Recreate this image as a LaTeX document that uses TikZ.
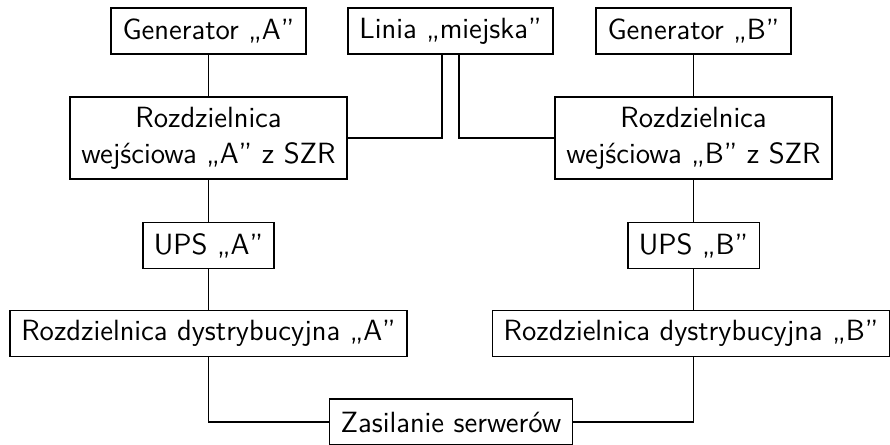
\documentclass[tikz,border=0pt]{standalone}
\usepackage{fontspec}
\begin{document}
\begin{tikzpicture}[x=0.4pt,y=-0.4pt,line width=0.7pt,
  box/.style={draw,rectangle,font=\sffamily\fontsize{11.7}{14.4}\selectfont,inner xsep=4.5pt,minimum height=18.4pt},
  box2/.style={box,align=center,minimum height=32.8pt}]
\useasboundingbox (0,0) rectangle (890,445);
% Sources
\node[box] (genA) at (208.5,31) {Generator „A”};
\node[box] (linia) at (450.5,31) {Linia „miejska”};
\node[box] (genB) at (693.5,31) {Generator „B”};

% Input switchboards
\node[box2] (rozA) at (208.5,138) {Rozdzielnica\\wejściowa „A” z SZR};
\node[box2] (rozB) at (693.5,138) {Rozdzielnica\\wejściowa „B” z SZR};

% UPS
\node[box] (upsA) at (208.5,245.5) {UPS „A”};
\node[box] (upsB) at (693.5,245.5) {UPS „B”};

% Distribution switchboards
\node[box] (dystA) at (208.5,333.5) {Rozdzielnica dystrybucyjna „A”};
\node[box] (dystB) at (691,333.5) {Rozdzielnica dystrybucyjna „B”};

% Servers
\node[box] (zas) at (451,422) {Zasilanie serwerów};

% Connections
\draw (genA) -- (rozA);
\draw (genB) -- (rozB);
\draw ([xshift=-3.4pt]linia.south) |- (rozA.east);
\draw ([xshift=3.4pt]linia.south) |- (rozB.west);
\draw (rozA) -- (upsA);
\draw (rozB) -- (upsB);
\draw (upsA) -- (dystA);
\draw (upsB) -- (upsB |- dystB.north);
\draw (dystA.south) |- (zas.west);
\draw (upsB |- dystB.south) |- (zas.east);
\end{tikzpicture}
\end{document}
